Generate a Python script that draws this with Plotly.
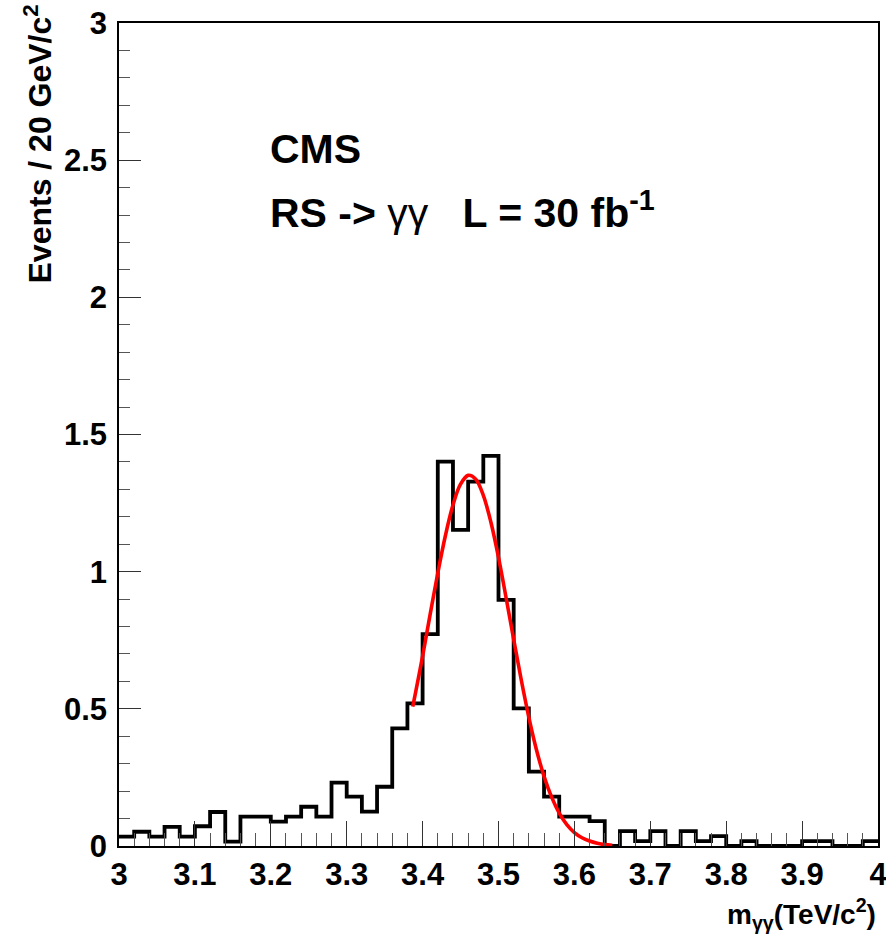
import plotly.graph_objects as go

# ---- data ----
bin_lo = 3.0
bin_width = 0.02
counts = [0.034, 0.052, 0.034, 0.070, 0.034, 0.072, 0.124, 0.016, 0.107, 0.107,
          0.089, 0.107, 0.143, 0.107, 0.231, 0.180, 0.125, 0.216, 0.429, 0.520,
          0.772, 1.401, 1.152, 1.328, 1.422, 0.897, 0.502, 0.271, 0.180, 0.107,
          0.107, 0.091, 0.0, 0.054, 0.018, 0.054, 0.0, 0.054, 0.018, 0.036,
          0.0, 0.018, 0.0, 0.0, 0.0, 0.018, 0.018, 0.0, 0.0, 0.018]

fit_x = [3.387, 3.39, 3.40, 3.41, 3.42, 3.43, 3.44, 3.45, 3.46, 3.47, 3.48, 3.49,
         3.50, 3.51, 3.52, 3.53, 3.54, 3.55, 3.56, 3.57, 3.58, 3.59, 3.60, 3.61,
         3.62, 3.63, 3.64, 3.65]
fit_y = [0.508, 0.549, 0.692, 0.845, 0.995, 1.131, 1.243, 1.319, 1.351, 1.337,
         1.278, 1.180, 1.052, 0.905, 0.753, 0.605, 0.469, 0.351, 0.254, 0.178,
         0.120, 0.078, 0.049, 0.030, 0.018, 0.010, 0.005, 0.003]

x_ticks = [3.0, 3.1, 3.2, 3.3, 3.4, 3.5, 3.6, 3.7, 3.8, 3.9, 4.0]
x_ticktext = ["3", "3.1", "3.2", "3.3", "3.4", "3.5", "3.6", "3.7", "3.8", "3.9", "4"]
y_ticks = [0, 0.5, 1, 1.5, 2, 2.5, 3]
y_ticktext = ["0", "0.5", "1", "1.5", "2", "2.5", "3"]

# build step outline from bin edges
edges = [bin_lo + i * bin_width for i in range(len(counts) + 1)]
step_x = edges
step_y = counts + [counts[-1]]

FONT = "Liberation Sans, Arial, sans-serif"

fig = go.Figure()
fig.add_trace(go.Scatter(x=step_x, y=step_y, mode="lines", line_shape="hv",
                         line=dict(color="black", width=3.8), hoverinfo="skip",
                         showlegend=False))
fig.add_trace(go.Scatter(x=fit_x, y=fit_y, mode="lines", line_shape="spline",
                         line=dict(color="#ff0000", width=3.6), hoverinfo="skip",
                         showlegend=False))

fig.update_layout(
    width=886, height=935,
    margin=dict(l=119, r=8, t=23, b=89),
    paper_bgcolor="white", plot_bgcolor="white",
    font=dict(family=FONT, size=30, color="black", weight="bold"),
    showlegend=False,
)
fig.update_xaxes(
    range=[3, 4], tickmode="array", tickvals=x_ticks, ticktext=x_ticktext,
    ticks="inside", ticklen=25, tickwidth=1, tickcolor="#333",
    minor=dict(ticks="inside", dtick=0.02, ticklen=13, tickwidth=1, tickcolor="#555"),
    showline=True, linecolor="black", linewidth=1.5, mirror=True,
    showgrid=False, zeroline=False, automargin=False,
    tickfont=dict(family=FONT, size=31, weight="bold"),
    ticklabelstandoff=0, ticklabeloverflow="allow",
)
fig.update_yaxes(
    range=[0, 3], tickmode="array", tickvals=y_ticks, ticktext=y_ticktext,
    ticks="inside", ticklen=22, tickwidth=1, tickcolor="#333",
    minor=dict(ticks="inside", dtick=0.1, ticklen=11, tickwidth=1, tickcolor="#555"),
    showline=True, linecolor="black", linewidth=1.5, mirror=True,
    showgrid=False, zeroline=False, automargin=False,
    tickfont=dict(family=FONT, size=31, weight="bold"),
    ticklabelstandoff=4, ticklabeloverflow="allow",
)

fig.add_annotation(text="Events / 20 GeV/c<sup>2</sup>", textangle=-90,
                   xref="paper", yref="paper", x=0, y=1, xanchor="center", yanchor="top",
                   xshift=-82, yshift=20, showarrow=False,
                   font=dict(family=FONT, size=32, weight="bold"))
fig.add_annotation(text="m<sub>γγ</sub>(TeV/c<sup>2</sup>)",
                   xref="paper", yref="paper", x=1, y=0, xanchor="right", yanchor="top",
                   yshift=-46, showarrow=False,
                   font=dict(family=FONT, size=28, weight="bold"))
fig.add_annotation(text="CMS", xref="paper", yref="paper",
                   x=(268 - 119) / 759, y=(846 - 149) / 823, xanchor="left", yanchor="middle",
                   showarrow=False, font=dict(family=FONT, size=41, weight="bold"))
fig.add_annotation(text="RS -> <span style='font-weight:normal'>γγ</span>&nbsp;&nbsp; L = 30 fb<sup>-1</sup>",
                   xref="paper", yref="paper",
                   x=(268 - 119) / 759, y=(846 - 210) / 823, xanchor="left", yanchor="middle",
                   showarrow=False, font=dict(family=FONT, size=41, weight="bold"))

fig.write_html("out.html")
